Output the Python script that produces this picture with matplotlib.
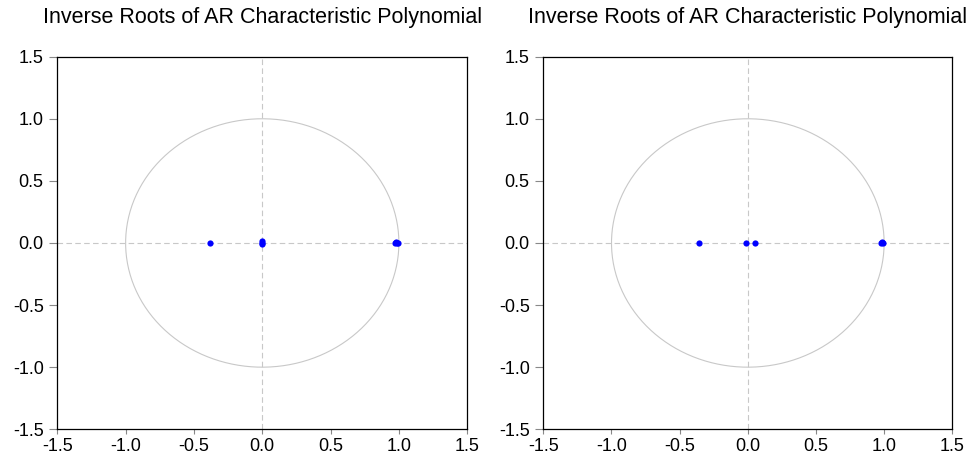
import numpy as np
import matplotlib.pyplot as plt

plt.rcParams['font.family'] = ['Liberation Sans', 'DejaVu Sans']

# inverse roots
left_re = [-0.38, 0.0, 0.0, 0.0, 0.975, 0.98, 0.985, 0.99]
left_im = [0.0, 0.012, -0.012, 0.0, 0.0, 0.004, -0.004, 0.0]
right_re = [-0.36, -0.015, 0.05, 0.98, 0.985, 0.99]
right_im = [0.0, 0.0, 0.0, 0.0, 0.004, -0.004]

ticks = [-1.5, -1.0, -0.5, 0.0, 0.5, 1.0, 1.5]
title = "Inverse Roots of AR Characteristic Polynomial"

fig = plt.figure(figsize=(9.76, 4.66), dpi=100)
axes = [fig.add_axes([0.0587, 0.0788, 0.420, 0.7996]),
        fig.add_axes([0.5567, 0.0788, 0.419, 0.7996])]

theta = np.linspace(0, 2 * np.pi, 400)
for ax, re, im in zip(axes, [left_re, right_re], [left_im, right_im]):
    ax.plot(np.cos(theta), np.sin(theta), color='#c8c8c8', lw=0.8)
    ax.axhline(0, color='#c8c8c8', lw=0.8, ls=(0, (5, 3)))
    ax.axvline(0, color='#c8c8c8', lw=0.8, ls=(0, (5, 3)))
    ax.scatter(re, im, s=20, color='#0000ff', zorder=3, linewidths=0)
    ax.set_xlim(-1.5, 1.5)
    ax.set_ylim(-1.5, 1.5)
    ax.set_xticks(ticks)
    ax.set_yticks(ticks)
    ax.set_xticklabels([f"{t:.1f}" for t in ticks])
    ax.set_yticklabels([f"{t:.1f}" for t in ticks])
    ax.tick_params(axis='x', direction='out', length=3.6, width=0.8,
                   color='#888888', labelsize=13, pad=2.5)
    ax.tick_params(axis='y', direction='out', length=5.8, width=0.8,
                   color='#888888', labelsize=13, pad=4)
    for s in ax.spines.values():
        s.set_linewidth(0.9)
    ax.set_title(title, fontsize=15.5, pad=24)

fig.savefig("out.png", dpi=100)
